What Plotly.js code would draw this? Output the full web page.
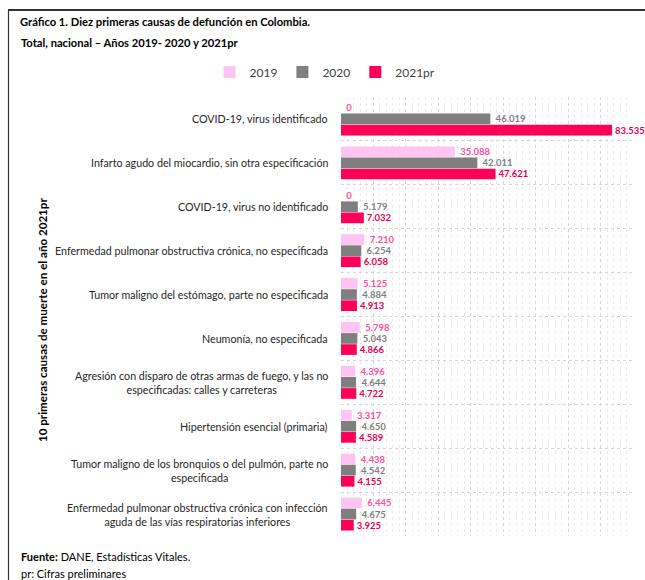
<!DOCTYPE html>
<html>
<head>
<meta charset="utf-8">
<script src="https://cdn.plot.ly/plotly-3.0.1.min.js"></script>
<style>
  html, body { margin: 0; padding: 0; background: #fff; }
  #chart { width: 645px; height: 580px; }
</style>
</head>
<body>
<div id="chart"></div>
<script>
const categories = [
  "COVID-19, virus identificado",
  "Infarto agudo del miocardio, sin otra especificación",
  "COVID-19, virus no identificado",
  "Enfermedad pulmonar obstructiva crónica, no especificada",
  "Tumor maligno del estómago, parte no especificada",
  "Neumonía, no especificada",
  "Agresión con disparo de otras armas de fuego, y las no<br>especificadas: calles y carreteras",
  "Hipertensión esencial (primaria)",
  "Tumor maligno de los bronquios o del pulmón, parte no<br>especificada",
  "Enfermedad pulmonar obstructiva crónica con infección<br>aguda de las vías respiratorias inferiores"
];
const seriesNames = ["2019", "2020", "2021pr"];
const values2019 = [0, 35088, 0, 7210, 5125, 5798, 4396, 3317, 4438, 6445];
const values2020 = [46019, 42011, 5179, 6254, 4884, 5043, 4644, 4650, 4542, 4675];
const values2021 = [83535, 47621, 7032, 6058, 4913, 4866, 4722, 4589, 4155, 3925];

const barColors = ["#ffc4f4", "#7f7f7f", "#ff0058"];
const labelColors = ["#ff4f9c", "#7f7f7f", "#e6004f"];
const labelPrefix = ["\u00a0", "\u00a0", ""];
const allValues = [values2019, values2020, values2021];

const W = 645, H = 580;
const M = {l: 341, r: 12, t: 97, b: 44};
const pw = W - M.l - M.r, ph = H - M.t - M.b;
const px2paperX = x => (x - M.l) / pw;
const px2paperY = y => (H - M.b - y) / ph;

const FONT = "Lato, 'Open Sans', sans-serif";

const traces = allValues.map((vals, i) => ({
  type: "bar",
  orientation: "h",
  name: seriesNames[i],
  y: categories,
  x: vals,
  marker: {color: barColors[i]},
  texttemplate: labelPrefix[i] + "%{x:,.0f}",
  textposition: "outside",
  constraintext: "none",
  cliponaxis: false,
  textfont: {family: FONT, size: 9.5, color: labelColors[i], weight: "bold"},
  hoverinfo: "x+y"
}));

const annotations = categories.map(c => ({
  xref: "paper", yref: "y",
  x: 0, y: c, xshift: -11,
  xanchor: "right", yanchor: "middle",
  align: "center",
  text: c,
  showarrow: false,
  font: {family: FONT, size: 10.7, color: "#262626"}
}));

annotations.push({
  xref: "paper", yref: "paper",
  x: px2paperX(42), y: px2paperY(320),
  textangle: -90,
  xanchor: "center", yanchor: "middle",
  text: "<b>10 primeras causas de muerte en el año 2021pr</b>",
  showarrow: false,
  font: {family: FONT, size: 11.6, color: "#000"}
});
annotations.push({
  xref: "paper", yref: "paper",
  x: px2paperX(19), y: px2paperY(43),
  xanchor: "left", yanchor: "middle",
  text: "<b>Total, nacional – Años 2019- 2020 y 2021pr</b>",
  showarrow: false,
  font: {family: FONT, size: 11.2, color: "#000"}
});
annotations.push({
  xref: "paper", yref: "paper",
  x: px2paperX(19), y: px2paperY(556),
  xanchor: "left", yanchor: "middle",
  text: "<b>Fuente:</b> DANE, Estadísticas Vitales.",
  showarrow: false,
  font: {family: FONT, size: 11, color: "#000"}
});
annotations.push({
  xref: "paper", yref: "paper",
  x: px2paperX(19), y: px2paperY(573),
  xanchor: "left", yanchor: "middle",
  text: "pr: Cifras preliminares",
  showarrow: false,
  font: {family: FONT, size: 11, color: "#000"}
});

const shapes = [
  {type: "line", xref: "paper", yref: "paper",
   x0: px2paperX(8), x1: px2paperX(W + 5), y0: px2paperY(10), y1: px2paperY(10),
   line: {color: "#333", width: 2}},
  {type: "line", xref: "paper", yref: "paper",
   x0: px2paperX(8.5), x1: px2paperX(8.5), y0: px2paperY(10), y1: px2paperY(H + 5),
   line: {color: "#333", width: 1.2}}
];

const layout = {
  width: W, height: H,
  margin: M,
  paper_bgcolor: "#fff",
  plot_bgcolor: "#fff",
  separators: ",.",
  font: {family: FONT, color: "#262626"},
  title: {
    text: "<b>Gráfico 1. Diez primeras causas de defunción en Colombia.</b>",
    xref: "container", yref: "container",
    x: 20 / W, xanchor: "left",
    y: 1 - 22 / H, yanchor: "middle",
    font: {family: FONT, size: 11.2, color: "#000"}
  },
  barmode: "group",
  bargap: 0.24,
  bargroupgap: 0.04,
  showlegend: true,
  legend: {
    orientation: "h",
    xref: "container", yref: "container",
    x: 325 / W, xanchor: "center",
    y: 1 - 72 / H, yanchor: "middle",
    font: {family: FONT, size: 12, color: "#404040"},
    itemwidth: 30,
    traceorder: "normal"
  },
  xaxis: {
    range: [0, 90000],
    dtick: 10000,
    showticklabels: false,
    ticks: "",
    showgrid: true,
    gridcolor: "#d6d6d6",
    griddash: "dot",
    gridwidth: 1,
    zeroline: false,
    showline: false,
    minor: {dtick: 2000, showgrid: true, gridcolor: "#ebebeb", griddash: "dot", gridwidth: 1},
    fixedrange: true
  },
  yaxis: {
    type: "category",
    autorange: "reversed",
    showticklabels: false,
    ticks: "",
    tickson: "boundaries",
    showgrid: true,
    gridcolor: "#d6d6d6",
    griddash: "dot",
    zeroline: false,
    showline: false,
    fixedrange: true
  },
  annotations: annotations,
  shapes: shapes
};

Plotly.newPlot("chart", traces, layout, {displayModeBar: false, staticPlot: true});
</script>
</body>
</html>
